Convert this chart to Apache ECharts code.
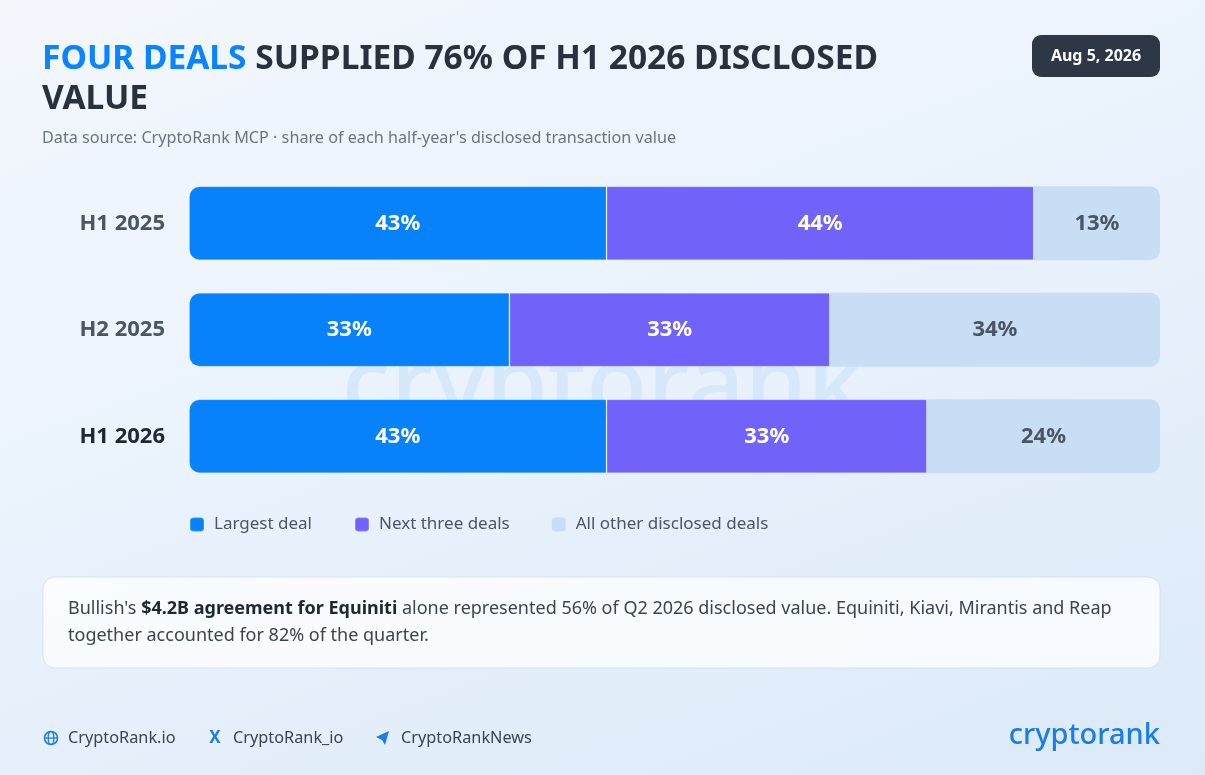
<!DOCTYPE html>
<html>
<head>
<meta charset="utf-8">
<script src="https://cdn.jsdelivr.net/npm/echarts@6/dist/echarts.min.js"></script>
<style>
html,body{margin:0;padding:0;width:1205px;height:775px;overflow:hidden;}
#c{width:1205px;height:775px;background:linear-gradient(160deg,#f3f7fc 0%,#e9f2fc 50%,#dbe9f8 100%);}
</style>
</head>
<body>
<div id="c"></div>
<script>
const categories = ['H1 2025', 'H2 2025', 'H1 2026'];
const largestDeal = [43, 33, 43];
const nextThreeDeals = [44, 33, 33];
const otherDeals = [13, 34, 24];
const seriesNames = ['Largest deal', 'Next three deals', 'All other disclosed deals'];

const FONT = '"Noto Sans", "Open Sans", sans-serif';
const chart = echarts.init(document.getElementById('c'), null, {renderer: 'canvas'});

const labelBase = {show: true, position: 'inside', formatter: '{c}%', fontSize: 22, fontWeight: 'bold', fontFamily: FONT};

const option = {
  backgroundColor: 'transparent',
  textStyle: {fontFamily: FONT},
  title: {
    text: '{b|FOUR DEALS}{d| SUPPLIED 76% OF H1 2026 DISCLOSED}\n{d|VALUE}',
    left: 37, top: 34,
    textStyle: {
      rich: {
        b: {color: '#0a84ff', fontSize: 33.5, fontWeight: 'bold', fontFamily: FONT, lineHeight: 40},
        d: {color: '#28313d', fontSize: 33.5, fontWeight: 'bold', fontFamily: FONT, lineHeight: 40}
      }
    },
    subtext: "Data source: CryptoRank MCP · share of each half-year's disclosed transaction value",
    subtextStyle: {color: '#6b7582', fontSize: 16.2, fontFamily: FONT},
    itemGap: 17
  },
  legend: {
    left: 184, top: 511,
    icon: 'roundRect',
    itemWidth: 14, itemHeight: 14,
    itemGap: 42,
    textStyle: {color: '#4b5563', fontSize: 17, fontFamily: FONT, padding: [0, 0, 0, 5]},
    data: seriesNames
  },
  grid: {left: 189, right: 45, top: 170, height: 319.5},
  xAxis: {type: 'value', min: 0, max: 100, show: false},
  yAxis: {
    type: 'category', data: categories, inverse: true,
    axisLine: {show: false}, axisTick: {show: false},
    axisLabel: {
      margin: 24, fontSize: 22, fontWeight: 'bold', fontFamily: FONT,
      formatter: function (v, i) { return i === 2 ? '{h|' + v + '}' : '{n|' + v + '}'; },
      rich: {
        n: {color: '#4b5563', fontSize: 22, fontWeight: 'bold', fontFamily: FONT},
        h: {color: '#1f2733', fontSize: 22, fontWeight: 'bold', fontFamily: FONT}
      }
    }
  },
  series: [
    {
      name: seriesNames[0], type: 'bar', stack: 'total', barWidth: 74, data: largestDeal,
      itemStyle: {color: '#0782fb', borderRadius: [10, 0, 0, 10], borderColor: 'rgba(255,255,255,0.2)', borderWidth: 1},
      label: Object.assign({}, labelBase, {color: '#ffffff'})
    },
    {
      name: seriesNames[1], type: 'bar', stack: 'total', barWidth: 74, data: nextThreeDeals,
      itemStyle: {color: '#7163fa', borderColor: 'rgba(255,255,255,0.2)', borderWidth: 1},
      label: Object.assign({}, labelBase, {color: '#ffffff'})
    },
    {
      name: seriesNames[2], type: 'bar', stack: 'total', barWidth: 74, data: otherDeals,
      itemStyle: {color: '#c8def5', borderRadius: [0, 10, 10, 0]},
      label: Object.assign({}, labelBase, {color: '#4b5563'})
    }
  ],
  graphic: [
    // watermark
    {type: 'text', z: -10, left: 'center', top: 340,
     style: {text: 'cryptorank', font: '500 100px "Noto Sans", sans-serif', fill: '#d6e8f9', textAlign: 'center'}},
    // date badge
    {type: 'rect', shape: {x: 1032, y: 35, width: 128, height: 42, r: 9}, style: {fill: '#2d3746'}},
    {type: 'text', x: 1096, y: 56, style: {text: 'Aug 5, 2026', font: 'bold 16px "Noto Sans", sans-serif', fill: '#ffffff', textAlign: 'center', textVerticalAlign: 'middle'}},
    // note box
    {type: 'rect', shape: {x: 43, y: 577, width: 1117, height: 91, r: 12},
     style: {fill: 'rgba(255,255,255,0.75)', stroke: 'rgba(210,225,240,0.9)', lineWidth: 1}},
    {type: 'text', x: 68, y: 609,
     style: {
       text: "{n|Bullish's }{b|$4.2B agreement for Equiniti}{n| alone represented 56% of Q2 2026 disclosed value. Equiniti, Kiavi, Mirantis and Reap}",
       textVerticalAlign: 'middle',
       rich: {
         n: {font: '18px "Noto Sans", sans-serif', fill: '#3b4452'},
         b: {font: 'bold 18px "Noto Sans", sans-serif', fill: '#1f2733'}
       }
     }},
    {type: 'text', x: 68, y: 636, style: {text: 'together accounted for 82% of the quarter.', font: '18px "Noto Sans", sans-serif', fill: '#3b4452', textVerticalAlign: 'middle'}},
    // footer globe icon
    {type: 'circle', shape: {cx: 51, cy: 738, r: 6.5}, style: {fill: 'none', stroke: '#1a7ee8', lineWidth: 1.6}},
    {type: 'ellipse', shape: {cx: 51, cy: 738, rx: 2.8, ry: 6.5}, style: {fill: 'none', stroke: '#1a7ee8', lineWidth: 1.3}},
    {type: 'line', shape: {x1: 44.5, y1: 738, x2: 57.5, y2: 738}, style: {stroke: '#1a7ee8', lineWidth: 1.3}},
    {type: 'text', x: 68, y: 738, style: {text: 'CryptoRank.io', font: '16.3px "Noto Sans", sans-serif', fill: '#3b4452', textVerticalAlign: 'middle'}},
    // X icon
    {type: 'text', x: 215, y: 738, style: {text: 'X', font: 'bold 17px "Noto Sans", sans-serif', fill: '#1a7ee8', textAlign: 'center', textVerticalAlign: 'middle'}},
    {type: 'text', x: 233, y: 738, style: {text: 'CryptoRank_io', font: '16.3px "Noto Sans", sans-serif', fill: '#3b4452', textVerticalAlign: 'middle'}},
    // telegram icon
    {type: 'polygon', shape: {points: [[376, 737], [389, 731], [385, 745], [382, 740]]}, style: {fill: '#1a7ee8'}},
    {type: 'text', x: 401, y: 738, style: {text: 'CryptoRankNews', font: '16.3px "Noto Sans", sans-serif', fill: '#3b4452', textVerticalAlign: 'middle'}},
    // logo
    {type: 'text', x: 1160, y: 736, style: {text: 'cryptorank', font: '500 29px "Noto Sans", sans-serif', fill: '#1a7ee8', textAlign: 'right', textVerticalAlign: 'middle'}}
  ]
};
chart.setOption(option);
</script>
</body>
</html>
